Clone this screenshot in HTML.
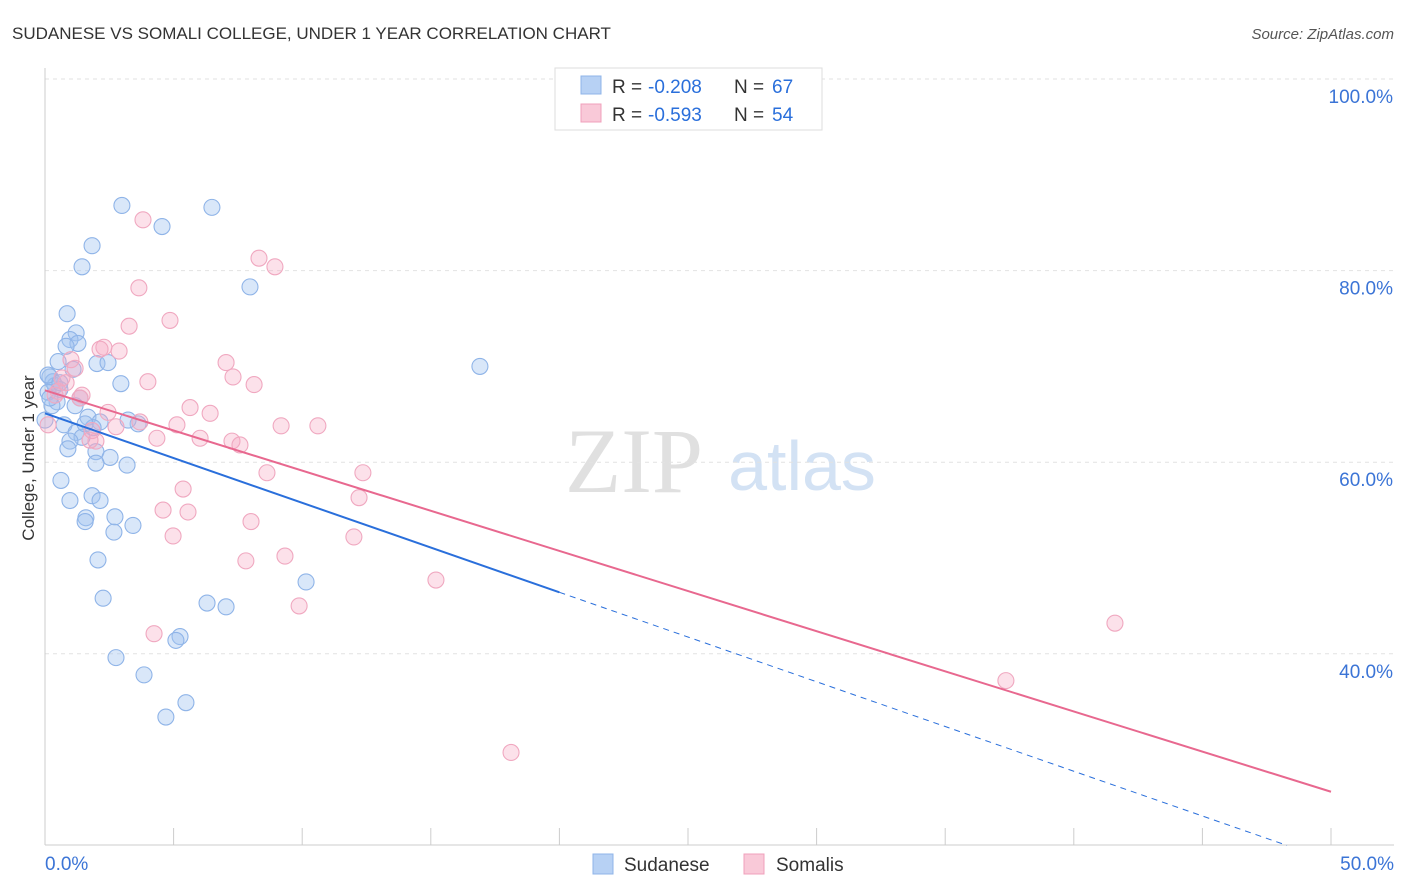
<!DOCTYPE html>
<html><head><meta charset="utf-8"><style>
body{margin:0;background:#fff;font-family:"Liberation Sans",sans-serif}
svg{display:block}
</style></head><body>
<svg id="chart" width="1406" height="892">
<text x="12" y="39" font-size="17" fill="#333">SUDANESE VS SOMALI COLLEGE, UNDER 1 YEAR CORRELATION CHART</text>
<text x="1394" y="39" font-size="15" fill="#555" text-anchor="end" font-style="italic">Source: ZipAtlas.com</text>
<text x="34" y="458" font-size="17" fill="#333" text-anchor="middle" transform="rotate(-90 34 458)">College, Under 1 year</text>
<g>
<text x="634" y="492" font-size="92" fill="#e0e0e0" text-anchor="middle" font-family="Liberation Serif,serif">ZIP</text>
<text x="802" y="490" font-size="70" fill="#d3e2f4" text-anchor="middle">atlas</text>
</g>
<g id="grid"></g><g id="axes"></g><g id="marks"></g>
<g>
<rect x="555" y="68" width="267" height="62" fill="#fff" stroke="#ddd"/>
<rect x="581" y="76" width="20" height="18" fill="#b7d1f4" stroke="#8fb4e8"/>
<rect x="581" y="104" width="20" height="18" fill="#f9c9d8" stroke="#f0a0bb"/>
<text x="612" y="93" font-size="19" fill="#333">R =</text>
<text x="648" y="93" font-size="19" fill="#2a6fdb">-0.208</text>
<text x="734" y="93" font-size="19" fill="#333">N =</text>
<text x="772" y="93" font-size="19" fill="#2a6fdb">67</text>
<text x="612" y="121" font-size="19" fill="#333">R =</text>
<text x="648" y="121" font-size="19" fill="#2a6fdb">-0.593</text>
<text x="734" y="121" font-size="19" fill="#333">N =</text>
<text x="772" y="121" font-size="19" fill="#2a6fdb">54</text>
</g>
<g>
<rect x="593" y="854" width="20" height="20" fill="#b7d1f4" stroke="#8fb4e8"/>
<text x="624" y="871" font-size="19" fill="#333">Sudanese</text>
<rect x="744" y="854" width="20" height="20" fill="#f9c9d8" stroke="#f0a0bb"/>
<text x="776" y="871" font-size="19" fill="#333">Somalis</text>
</g>
</svg>
<script>
const yTicks=[100,80,60,40];
const xTickLabels=["0.0%","50.0%"];
const blueX=[2.99,6.49,4.55,1.83,1.44,7.97,0.86,1.21,0.97,1.28,0.82,0.51,2.02,2.45,1.09,16.91,0.19,0.31,0.39,2.95,0.58,0.12,1.36,0.47,0.27,1.17,1.67,2.14,3.62,3.23,0.74,1.87,1.21,1.44,0.97,0.89,1.98,2.53,1.98,3.19,0.62,1.83,2.14,0.97,1.59,2.72,3.42,1.56,2.68,2.06,10.15,2.26,6.30,7.04,5.25,5.09,2.76,3.85,5.48,4.70,0.12,0.19,0,0.58,1.56];
const blueY=[86.8,86.6,84.6,82.6,80.4,78.3,75.5,73.5,72.8,72.4,72.1,70.5,70.3,70.4,69.7,70.0,68.9,68.4,68.0,68.2,67.6,67.3,66.7,66.3,65.9,65.9,64.7,64.2,64.0,64.4,63.9,63.6,63.1,62.6,62.2,61.4,61.1,60.5,59.9,59.7,58.1,56.5,56.0,56.0,54.2,54.3,53.4,53.8,52.7,49.8,47.5,45.8,45.3,44.9,41.8,41.4,39.6,37.8,34.9,33.4,69.1,66.7,64.4,68.3,64.0];
const pinkX=[3.81,8.32,8.94,3.65,4.86,3.27,2.29,2.88,2.14,1.01,7.04,7.31,0.82,4.00,8.13,0.51,1.44,1.36,5.64,6.42,2.45,3.69,5.13,2.76,9.18,10.61,1.83,6.03,4.35,7.27,7.58,1.98,8.63,12.36,5.37,12.21,4.59,5.56,8.01,4.98,12.01,9.33,7.81,15.20,9.88,4.24,41.60,37.36,18.12,0.12,0.39,1.17,0.66,1.75];
const pinkY=[85.3,81.3,80.4,78.2,74.8,74.2,72.0,71.6,71.8,70.7,70.4,68.9,68.3,68.4,68.1,67.4,67.0,66.7,65.7,65.1,65.2,64.2,63.9,63.7,63.8,63.8,63.3,62.5,62.5,62.2,61.8,62.2,58.9,58.9,57.2,56.3,55.0,54.8,53.8,52.3,52.2,50.2,49.7,47.7,45.0,42.1,43.2,37.2,29.7,63.9,67.0,69.8,68.8,62.3];
const blueLine=[65.1,18.4];
const pinkLine=[67.5,25.6];
const X=v=>45+v*25.72, Y=v=>79+(100-v)*9.58;
const NS="http://www.w3.org/2000/svg";
function mk(t,a,p){const e=document.createElementNS(NS,t);for(const k in a)e.setAttribute(k,a[k]);p.appendChild(e);return e;}
const grid=document.getElementById('grid'),axes=document.getElementById('axes'),marks=document.getElementById('marks');
yTicks.forEach(v=>{
 const l=mk('line',{x1:45,x2:1394,y1:Y(v),y2:Y(v),stroke:'#e2e2e2','stroke-dasharray':'4,4'},grid);
 
 
 const t=mk('text',{x:1393,y:Y(v)+24,'font-size':19,fill:'#3b74d6','text-anchor':'end'},axes);
 t.textContent=v.toFixed(1)+'%';
 
 
});
mk('line',{x1:45,x2:45,y1:68,y2:845,stroke:'#ccc'},axes);
mk('line',{x1:45,x2:1394,y1:845,y2:845,stroke:'#ccc'},axes);
for(let i=0;i<=10;i++){const x=X(i*5);const tk=mk('line',{x1:x,x2:x,y1:828,y2:845,stroke:'#ccc'},axes);
 
 }
[[0,"start",45],[50,"end",1394]].forEach((d,i)=>{const t=mk('text',{x:d[2],y:870,'font-size':19,fill:'#3b74d6','text-anchor':d[1]},axes);t.textContent=xTickLabels[i];
 
 });
function pts(xs,ys,fill,stroke,name){xs.forEach((x,i)=>{const c=mk('circle',{cx:X(x),cy:Y(ys[i]),r:8,fill:fill,stroke:stroke,'stroke-width':1.1},marks);
 
 });}
pts(blueX,blueY,'rgba(160,196,240,0.4)','#8fb4e8','sudanese-point');
pts(pinkX,pinkY,'rgba(245,170,195,0.35)','#f0a8c0','somali-point');
const by=x=>blueLine[0]+(blueLine[1]-blueLine[0])*x/50;
const bs=mk('line',{x1:X(0),y1:Y(by(0)),x2:X(20),y2:Y(by(20)),stroke:'#2a6fdb','stroke-width':2},marks);


const bxEnd=50*(blueLine[0]-20)/(blueLine[0]-blueLine[1]);
const bd=mk('line',{x1:X(20),y1:Y(by(20)),x2:X(Math.min(bxEnd,50)),y2:Y(by(Math.min(bxEnd,50))),stroke:'#2a6fdb','stroke-width':1,'stroke-dasharray':'6,5'},marks);


const pl=mk('line',{x1:X(0),y1:Y(pinkLine[0]),x2:X(50),y2:Y(pinkLine[1]),stroke:'#e8688f','stroke-width':2},marks);


</script>
</body></html>
